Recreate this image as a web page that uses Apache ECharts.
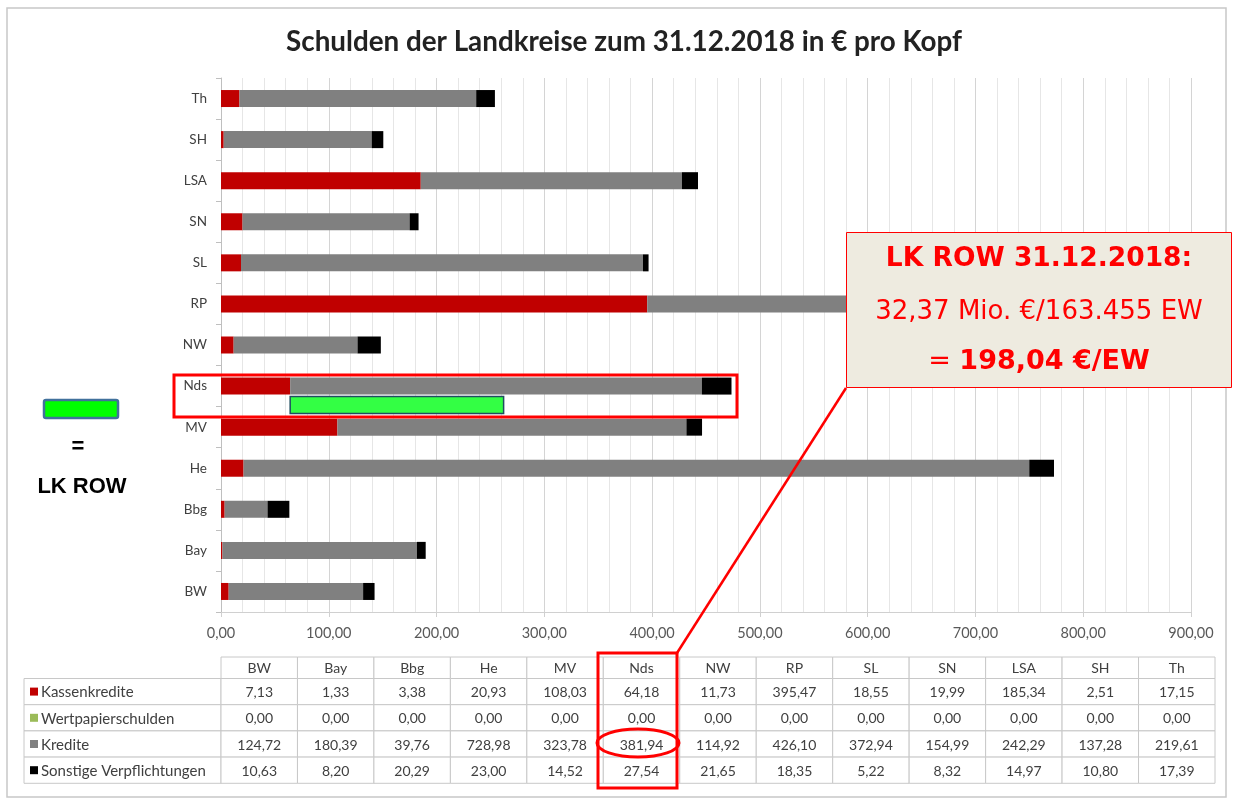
<!DOCTYPE html>
<html>
<head>
<meta charset="utf-8">
<script src="https://cdn.jsdelivr.net/npm/echarts@6/dist/echarts.min.js"></script>
<style>
  html, body { margin: 0; padding: 0; background: #fff; }
  #chart { width: 1233px; height: 800px; }
</style>
</head>
<body>
<div id="chart"></div>
<script>
// Daten (pro Kopf, in Euro), Reihenfolge von unten nach oben wie im Diagramm
var categories = ['BW', 'Bay', 'Bbg', 'He', 'MV', 'Nds', 'NW', 'RP', 'SL', 'SN', 'LSA', 'SH', 'Th'];
var kassenkredite = [7.13, 1.33, 3.38, 20.93, 108.03, 64.18, 11.73, 395.47, 18.55, 19.99, 185.34, 2.51, 17.15];
var wertpapierschulden = [0, 0, 0, 0, 0, 0, 0, 0, 0, 0, 0, 0, 0];
var kredite = [124.72, 180.39, 39.76, 728.98, 323.78, 381.94, 114.92, 426.10, 372.94, 154.99, 242.29, 137.28, 219.61];
var sonstige = [10.63, 8.20, 20.29, 23.00, 14.52, 27.54, 21.65, 18.35, 5.22, 8.32, 14.97, 10.80, 17.39];
var seriesNames = ['Kassenkredite', 'Wertpapierschulden', 'Kredite', 'Sonstige Verpflichtungen'];
var seriesColors = ['#C00000', '#9BBB59', '#808080', '#000000'];
var xTicks = [0, 100, 200, 300, 400, 500, 600, 700, 800, 900];

// LK ROW: 198,04 €/EW, beginnt am Ende der Kassenkredite von Nds
var lkRowCategory = 'Nds';
var lkRowValue = 198.04;
var lkRowStart = kassenkredite[categories.indexOf(lkRowCategory)];

function fmt(v) {
    return v.toFixed(2).replace('.', ',');
}

var myChart = echarts.init(document.getElementById('chart'));

// Tabelle unter dem Diagramm
var tableRows = [kassenkredite, wertpapierschulden, kredite, sonstige];
var tLeft = 24, tLabelRight = 221, tRight = 1215;
var colW = (tRight - tLabelRight) / categories.length;
var headTop = 657, headH = 21.5, rowH = 26.2;
var tableFont = '14px Lato';
var labelFont = '15px Lato';
var tableEls = [];
// Kopfzeile
categories.forEach(function (c, i) {
    tableEls.push({
        type: 'rect',
        shape: { x: tLabelRight + i * colW, y: headTop, width: colW, height: headH },
        style: { fill: '#fff', stroke: '#C8C8C8', lineWidth: 1 }
    });
    tableEls.push({
        type: 'text',
        style: {
            text: c, x: tLabelRight + (i + 0.5) * colW, y: headTop + headH / 2 + 1,
            textAlign: 'center', textVerticalAlign: 'middle', font: tableFont, fill: '#404040'
        }
    });
});
tableRows.forEach(function (row, r) {
    var y0 = headTop + headH + r * rowH;
    tableEls.push({
        type: 'rect',
        shape: { x: tLeft, y: y0, width: tLabelRight - tLeft, height: rowH },
        style: { fill: '#fff', stroke: '#C8C8C8', lineWidth: 1 }
    });
    tableEls.push({
        type: 'rect',
        shape: { x: tLeft + 6, y: y0 + rowH / 2 - 4, width: 8, height: 8 },
        style: { fill: seriesColors[r] }
    });
    tableEls.push({
        type: 'text',
        style: {
            text: seriesNames[r], x: tLeft + 17, y: y0 + rowH / 2 + 1,
            textAlign: 'left', textVerticalAlign: 'middle', font: labelFont, fill: '#404040'
        }
    });
    row.forEach(function (v, i) {
        tableEls.push({
            type: 'rect',
            shape: { x: tLabelRight + i * colW, y: y0, width: colW, height: rowH },
            style: { fill: '#fff', stroke: '#C8C8C8', lineWidth: 1 }
        });
        tableEls.push({
            type: 'text',
            style: {
                text: fmt(v), x: tLabelRight + (i + 0.5) * colW, y: y0 + rowH / 2 + 1,
                textAlign: 'center', textVerticalAlign: 'middle', font: tableFont, fill: '#404040'
            }
        });
    });
});

var option = {
    animation: false,
    backgroundColor: '#fff',
    title: {
        text: 'Schulden der Landkreise zum 31.12.2018 in € pro Kopf',
        left: 619,
        textAlign: 'center',
        top: 23,
        textStyle: { fontFamily: 'Lato', fontSize: 27.8, fontWeight: 'bold', color: '#222' }
    },
    grid: { left: 221, right: 42, top: 78, bottom: 188, containLabel: false },
    xAxis: {
        type: 'value',
        min: xTicks[0],
        max: xTicks[xTicks.length - 1],
        interval: 100,
        axisLine: { show: true, lineStyle: { color: '#D0D0D0' } },
        axisTick: { show: true, length: 5, lineStyle: { color: '#D0D0D0' } },
        axisLabel: {
            formatter: function (v) { return fmt(v); },
            fontFamily: 'Lato', fontSize: 14.5, color: '#595959', margin: 14
        },
        splitLine: { show: true, lineStyle: { color: '#D4D4D4' } },
        minorTick: { show: false, splitNumber: 5 },
        minorSplitLine: { show: true, lineStyle: { color: '#E6E6E6' } }
    },
    yAxis: {
        type: 'category',
        data: categories,
        axisLine: { show: true, lineStyle: { color: '#BFBFBF' } },
        axisTick: { show: true, length: 5, lineStyle: { color: '#BFBFBF' } },
        axisLabel: { fontFamily: 'Lato', fontSize: 13.5, color: '#404040', margin: 14 },
        splitLine: { show: false }
    },
    series: [
        { name: seriesNames[0], type: 'bar', stack: 'total', barWidth: 17, data: kassenkredite, itemStyle: { color: seriesColors[0] } },
        { name: seriesNames[1], type: 'bar', stack: 'total', barWidth: 17, data: wertpapierschulden, itemStyle: { color: seriesColors[1] } },
        { name: seriesNames[2], type: 'bar', stack: 'total', barWidth: 17, data: kredite, itemStyle: { color: seriesColors[2] } },
        { name: seriesNames[3], type: 'bar', stack: 'total', barWidth: 17, data: sonstige, itemStyle: { color: seriesColors[3] } },
        {
            name: 'LK ROW',
            type: 'custom',
            z: 5,
            data: [[lkRowStart, lkRowValue, categories.indexOf(lkRowCategory)]],
            encode: { x: [0, 1], y: 2 },
            renderItem: function (params, api) {
                var cat = api.value(2);
                var p0 = api.coord([api.value(0), cat]);
                var p1 = api.coord([api.value(0) + api.value(1), cat]);
                var band = api.size([0, 1])[1];
                var h = 17;
                var yc = p0[1] + band * 0.46;
                return {
                    type: 'rect',
                    shape: { x: p0[0], y: yc - h / 2, width: p1[0] - p0[0], height: h },
                    style: { fill: '#33FF44', stroke: '#1F4E5F', lineWidth: 1.5 }
                };
            }
        }
    ],
    graphic: [
        // Rahmen
        { type: 'rect', z: 0, silent: true, shape: { x: 7, y: 8, width: 1219, height: 789 }, style: { fill: 'none', stroke: '#C8C8C8', lineWidth: 1.5 } },
        // Markierung Nds-Zeile
        { type: 'rect', z: 100, shape: { x: 174, y: 375, width: 563, height: 42 }, style: { fill: 'none', stroke: '#FF0000', lineWidth: 3 } },
        // Verbindungslinie
        { type: 'line', z: 100, shape: { x1: 677, y1: 653, x2: 846, y2: 388 }, style: { stroke: '#FF0000', lineWidth: 2.5 } },
        // Infobox
        { type: 'rect', z: 101, shape: { x: 846.5, y: 232.5, width: 385, height: 155 }, style: { fill: '#EEEBE0', stroke: '#FF0000', lineWidth: 1 } },
        { type: 'text', z: 102, style: { text: 'LK ROW 31.12.2018:', x: 1039, y: 259, textAlign: 'center', textVerticalAlign: 'middle', font: 'bold 26.5px "DejaVu Sans"', fill: '#FF0000' } },
        { type: 'text', z: 102, style: { text: '32,37 Mio. €/163.455 EW', x: 1039, y: 312, textAlign: 'center', textVerticalAlign: 'middle', font: '26px "DejaVu Sans"', fill: '#FF0000' } },
        {
            type: 'text', z: 102,
            style: {
                text: '= {b|198,04 €/EW}', x: 1039, y: 362, textAlign: 'center', textVerticalAlign: 'middle',
                font: '27px "DejaVu Sans"', fill: '#FF0000',
                rich: { b: { fontFamily: 'DejaVu Sans', fontSize: 27, fontWeight: 'bold', fill: '#FF0000', color: '#FF0000' } }
            }
        },
        // Markierung Tabellenspalte Nds
        { type: 'rect', z: 100, shape: { x: 598, y: 653, width: 79, height: 135 }, style: { fill: 'none', stroke: '#FF0000', lineWidth: 3 } },
        { type: 'ellipse', z: 100, shape: { cx: 638, cy: 743, rx: 41, ry: 14 }, style: { fill: 'none', stroke: '#FF0000', lineWidth: 3 } },
        // Legende links
        { type: 'rect', z: 50, shape: { x: 44, y: 400, width: 74, height: 18, r: 2 }, style: { fill: '#00FF00', stroke: '#41719C', lineWidth: 2.5 } },
        { type: 'text', z: 50, style: { text: '=', x: 78, y: 447, textAlign: 'center', textVerticalAlign: 'middle', font: 'bold 22px "Liberation Sans"', fill: '#000' } },
        { type: 'text', z: 50, style: { text: 'LK ROW', x: 82, y: 487, textAlign: 'center', textVerticalAlign: 'middle', font: 'bold 22px "Liberation Sans"', fill: '#000' } },
        { type: 'group', z: 20, children: tableEls }
    ]
};
myChart.setOption(option);
</script>
</body>
</html>
